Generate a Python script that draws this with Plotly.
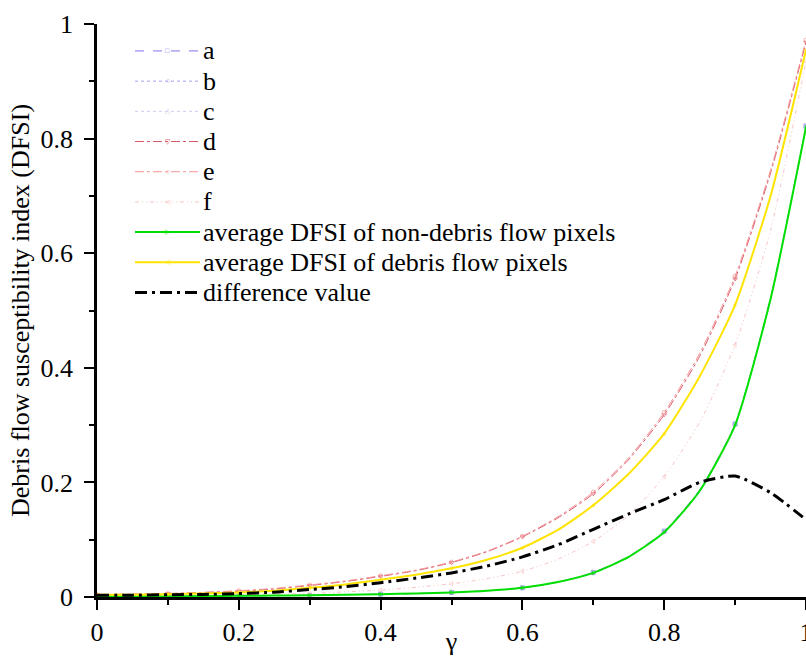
import plotly.graph_objects as go

# gamma values (x axis)
gamma = [0.0, 0.05, 0.1, 0.15, 0.2, 0.25, 0.3, 0.35, 0.4, 0.45, 0.5,
         0.55, 0.6, 0.65, 0.7, 0.75, 0.8, 0.85, 0.9, 0.95, 1.0]

# DFSI curves
series_a = [0.001, 0.001, 0.001, 0.0015, 0.002, 0.0025, 0.003, 0.004, 0.005, 0.006, 0.008,
            0.011, 0.016, 0.026, 0.043, 0.071, 0.115, 0.187, 0.302, 0.522, 0.822]
series_b = [0.001, 0.001, 0.001, 0.0015, 0.002, 0.0025, 0.003, 0.004, 0.005, 0.006, 0.008,
            0.011, 0.016, 0.026, 0.042, 0.070, 0.114, 0.186, 0.301, 0.521, 0.821]
series_c = [0.001, 0.001, 0.001, 0.0015, 0.002, 0.0025, 0.003, 0.004, 0.005, 0.006, 0.008,
            0.011, 0.016, 0.026, 0.042, 0.070, 0.113, 0.185, 0.300, 0.519, 0.819]
series_d = [0.004, 0.005, 0.006, 0.008, 0.010, 0.014, 0.020, 0.027, 0.036, 0.046, 0.060,
            0.079, 0.105, 0.138, 0.180, 0.240, 0.318, 0.420, 0.555, 0.740, 0.968]
series_e = [0.004, 0.005, 0.006, 0.008, 0.011, 0.015, 0.021, 0.028, 0.037, 0.047, 0.061,
            0.080, 0.106, 0.140, 0.183, 0.243, 0.322, 0.425, 0.560, 0.745, 0.972]
series_f = [0.002, 0.002, 0.003, 0.003, 0.004, 0.005, 0.006, 0.009, 0.012, 0.017, 0.023,
            0.032, 0.045, 0.066, 0.097, 0.143, 0.210, 0.305, 0.440, 0.640, 0.935]
avg_non_debris = [0.001, 0.001, 0.001, 0.0015, 0.002, 0.0025, 0.003, 0.004, 0.005, 0.006, 0.008,
                  0.011, 0.016, 0.026, 0.042, 0.070, 0.113, 0.185, 0.300, 0.520, 0.820]
avg_debris = [0.004, 0.004, 0.005, 0.006, 0.008, 0.011, 0.016, 0.022, 0.030, 0.039, 0.050,
              0.065, 0.086, 0.117, 0.160, 0.215, 0.285, 0.385, 0.510, 0.700, 0.955]
difference = [0.003, 0.003, 0.004, 0.0045, 0.006, 0.0085, 0.013, 0.018, 0.025, 0.033, 0.042,
              0.054, 0.070, 0.091, 0.118, 0.145, 0.170, 0.200, 0.211, 0.182, 0.135]

labels = ["a", "b", "c", "d", "e", "f",
          "average DFSI of non-debris flow pixels",
          "average DFSI of debris flow pixels",
          "difference value"]

tick_vals = [0, 0.2, 0.4, 0.6, 0.8, 1.0]
tick_text = ["0", "0.2", "0.4", "0.6", "0.8", "1"]

FONT = "Liberation Serif, Times New Roman, serif"

# data, color, dash, width, marker symbol, marker size, legend glyph
styles = [
    (series_a, "#7f72ee", "dash", 1, "square-open", 4, "□"),
    (series_b, "#a3a3ee", "dot", 1, "circle-open", 4, "○"),
    (series_c, "#cdcdf2", "dot", 1, "triangle-up-open", 4, "△"),
    (series_d, "#d9586a", "dashdot", 1, "triangle-down-open", 4, "▽"),
    (series_e, "#f79494", "dashdot", 1, "circle-open", 4, "○"),
    (series_f, "#f8c4c4", "4px,3px,1px,3px,1px,3px", 1, "triangle-left-open", 4, "◁"),
    (avg_non_debris, "#00e000", "solid", 2, "triangle-right", 3, "▷"),
    (avg_debris, "#ffe400", "solid", 2, "triangle-left", 3, "◁"),
    (difference, "#000000", "12px,5px,3px,5px", 3, None, 0, ""),
]

# markers only at every 0.1 step
marker_mask = [1 if i % 2 == 0 else 0 for i in range(len(gamma))]

fig = go.Figure()
for label, (vals, color, dash, width, symbol, msize, glyph) in zip(labels, styles):
    fig.add_trace(go.Scatter(
        x=gamma, y=vals, name=label,
        mode="lines+markers" if symbol else "lines",
        line=dict(color=color, dash=dash, width=width, shape="spline", smoothing=0.6),
        marker=dict(symbol=symbol or "circle", size=[m * msize for m in marker_mask],
                    color=color, line=dict(color=color, width=1)),
        showlegend=False,
        cliponaxis=False,
    ))

# hand-drawn legend (Origin style: long samples, tight rows)
row_top = 0.953
row_step = 0.0527
x0, x1 = 0.0536, 0.1453
for i, (label, (vals, color, dash, width, symbol, msize, glyph)) in enumerate(zip(labels, styles)):
    yy = row_top - i * row_step
    fig.add_shape(type="line", xref="paper", yref="paper", x0=x0, x1=x1, y0=yy, y1=yy,
                  line=dict(color=color, dash=dash, width=width))
    if glyph:
        fig.add_annotation(xref="paper", yref="paper", x=(x0 + x1) / 2, y=yy, text=glyph,
                           showarrow=False, font=dict(size=7, color=color),
                           xanchor="center", yanchor="middle")
    fig.add_annotation(xref="paper", yref="paper", x=x1 + 0.002, y=yy, text=label,
                       showarrow=False, font=dict(family=FONT, size=26, color="black"),
                       xanchor="left", yanchor="middle")

axis_common = dict(
    showline=True, linecolor="black", linewidth=2.5, mirror=False,
    showgrid=False, zeroline=False, automargin=False,
    ticks="outside", ticklen=10, tickwidth=2, tickcolor="black",
    minor=dict(ticks="outside", ticklen=5, tickwidth=2, tickcolor="black", dtick=0.1),
    tickfont=dict(family=FONT, size=26, color="black"),
    range=[0, 1], tickvals=tick_vals, ticktext=tick_text,
    ticklabeloverflow="allow",
)

fig.update_layout(
    width=806, height=656,
    margin=dict(l=97, r=0, t=24, b=59),
    plot_bgcolor="white", paper_bgcolor="white",
    font=dict(family=FONT, size=26, color="black"),
    xaxis=dict(**axis_common, title=dict(text="γ", standoff=0,
                                         font=dict(family=FONT, size=26))),
    yaxis=dict(**axis_common, title=dict(text="Debris flow susceptibility index (DFSI)",
                                         standoff=4, font=dict(family=FONT, size=26)),
               ticklabelstandoff=6),
)

# page has no body margin so the figure sits at the window corner
fig.write_html("out.html", config={"displayModeBar": False},
               post_script="document.body.style.margin='0';")
